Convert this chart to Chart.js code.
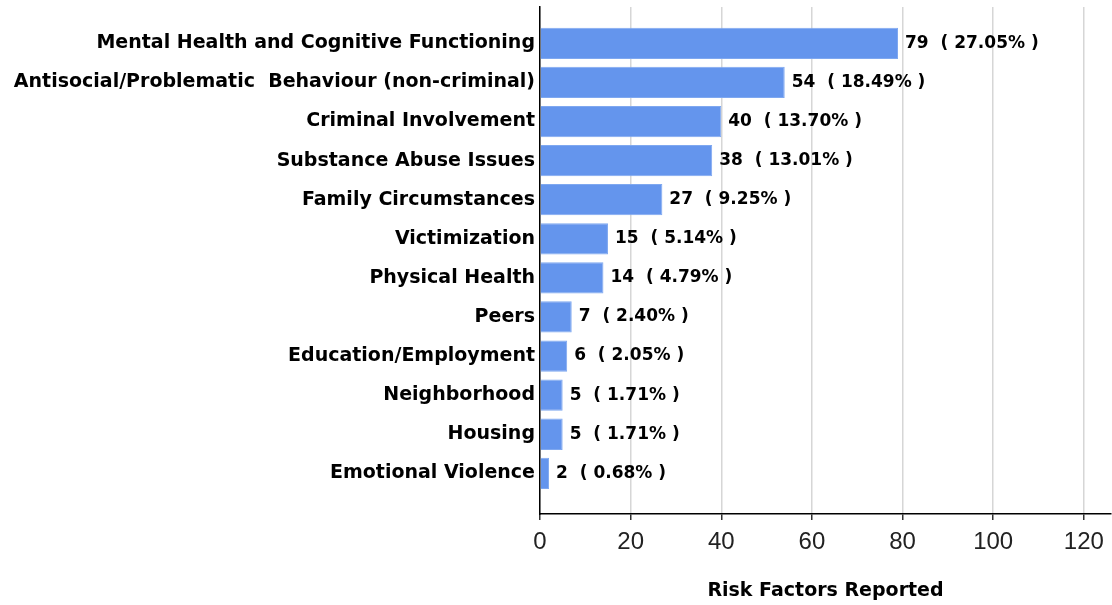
<!DOCTYPE html>
<html>
<head>
<meta charset="utf-8">
<script src="https://cdn.jsdelivr.net/npm/chart.js@4"></script>
<style>
  html, body { margin: 0; padding: 0; background: #fff; }
</style>
</head>
<body>
<canvas id="riskChart" width="1112" height="605"></canvas>
<script>
// data
const categories = [
  'Mental Health and Cognitive Functioning',
  'Antisocial/Problematic  Behaviour (non-criminal)',
  'Criminal Involvement',
  'Substance Abuse Issues',
  'Family Circumstances',
  'Victimization',
  'Physical Health',
  'Peers',
  'Education/Employment',
  'Neighborhood',
  'Housing',
  'Emotional Violence'
];
const counts = [79, 54, 40, 38, 27, 15, 14, 7, 6, 5, 5, 2];
const xTicks = [0, 20, 40, 60, 80, 100, 120];

const total = counts.reduce((a, b) => a + b, 0);
const boldFont = '"DejaVu Sans", sans-serif';

// value + percent label at the end of each bar
const barLabels = {
  id: 'barLabels',
  afterDatasetsDraw(chart) {
    const ctx = chart.ctx;
    const meta = chart.getDatasetMeta(0);
    ctx.save();
    ctx.font = 'bold 17px ' + boldFont;
    ctx.fillStyle = '#000';
    ctx.textBaseline = 'middle';
    ctx.textAlign = 'left';
    meta.data.forEach(function (bar, i) {
      const pct = (counts[i] / total * 100).toFixed(2);
      ctx.fillText(counts[i] + '  ( ' + pct + '% )', bar.x + 7, bar.y);
    });
    ctx.restore();
  }
};

new Chart(document.getElementById('riskChart'), {
  type: 'bar',
  data: {
    datasets: [{
      data: counts.map((v, i) => ({ x: v, y: i })),
      backgroundColor: '#6495ED',
      borderColor: '#7fa8f0',
      borderWidth: 1,
      categoryPercentage: 0.8,
      barPercentage: 1.0
    }]
  },
  options: {
    indexAxis: 'y',
    responsive: false,
    animation: false,
    layout: { padding: { top: 7, right: 1, left: 0, bottom: 0 } },
    plugins: {
      legend: { display: false },
      tooltip: { enabled: false }
    },
    scales: {
      x: {
        type: 'linear',
        position: 'bottom',
        min: 0,
        max: 126,
        afterBuildTicks: function (scale) {
          scale.ticks = xTicks.map(v => ({ value: v }));
        },
        afterFit: function (scale) {
          scale.height = 91;
          scale.paddingRight = 0;
        },
        ticks: {
          font: { family: '"Liberation Sans", Arial, sans-serif', size: 24 },
          color: '#222',
          padding: 8
        },
        grid: { color: '#d6d6d6', lineWidth: 1.5, tickLength: 6, tickColor: '#333' },
        border: { color: '#000', width: 1.5 },
        title: {
          display: true,
          text: 'Risk Factors Reported',
          font: { family: boldFont, size: 19, weight: 'bold' },
          color: '#000',
          padding: { top: 0, bottom: 3 }
        }
      },
      y: {
        type: 'linear',
        reverse: true,
        offset: false,
        min: -0.93,
        max: 12.04,
        afterBuildTicks: function (scale) {
          scale.ticks = categories.map((c, i) => ({ value: i }));
        },
        afterFit: function (scale) {
          scale.width = 540;
          scale.paddingTop = 0;
          scale.paddingBottom = 0;
        },
        ticks: {
          autoSkip: false,
          callback: function (value) { return categories[value]; },
          font: { family: boldFont, size: 19, weight: 'bold' },
          color: '#000',
          padding: 5
        },
        grid: { offset: false, drawOnChartArea: false, drawTicks: false },
        border: { color: '#000', width: 1.5 }
      }
    }
  },
  plugins: [barLabels]
});
</script>
</body>
</html>
